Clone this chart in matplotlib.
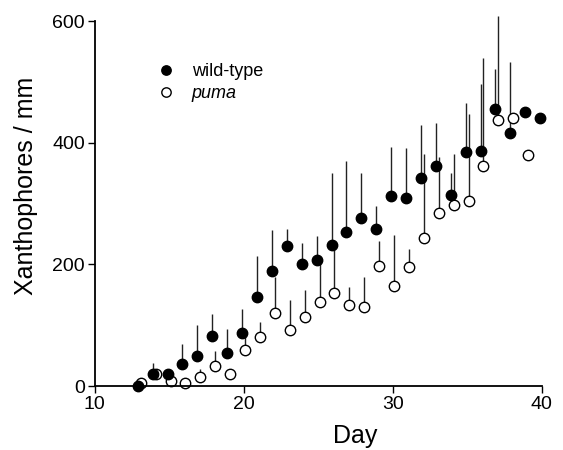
import matplotlib.pyplot as plt
import numpy as np

plt.rcParams['font.family'] = ['Liberation Sans', 'DejaVu Sans']

days = np.arange(13, 41)
# wild-type mean and upper error bar end (Xanthophores / mm)
wt_mean = np.array([0, 20, 20, 37, 50, 83, 54, 87, 147, 190, 230, 200, 207, 232,
                    253, 277, 259, 312, 310, 342, 362, 315, 385, 387, 455, 416, 450, 440])
wt_top = np.array([0, 38, 20, 70, 100, 118, 94, 126, 214, 256, 258, 236, 247, 350,
                   370, 351, 296, 393, 392, 429, 433, 350, 465, 496, 521, 533, 450, 440])

puma_days = np.arange(13, 40)
puma_mean = np.array([5, 20, 8, 5, 15, 33, 20, 60, 80, 120, 93, 113, 138, 153,
                      133, 130, 197, 165, 195, 244, 285, 298, 305, 362, 437, 440, 380])
puma_top = np.array([5, 20, 8, 5, 28, 58, 20, 80, 106, 180, 141, 158, 202, 235,
                     163, 180, 238, 249, 225, 382, 376, 381, 447, 540, 608, 440, 380])

off = 0.1

fig = plt.figure(figsize=(5.63, 4.5), dpi=100)
ax = fig.add_axes([0.168, 0.142, 0.794, 0.811])

# upper error bars only
ax.vlines(days - off, wt_mean, wt_top, color='#222222', lw=1.0, zorder=1, clip_on=False)
ax.vlines(puma_days + off, puma_mean, puma_top, color='#222222', lw=1.0, zorder=1, clip_on=False)

ax.plot(days - off, wt_mean, 'o', ms=7.5, color='black', mec='black', zorder=3,
        clip_on=False, label='wild-type')
ax.plot(puma_days + off, puma_mean, 'o', ms=7.5, mfc='white', mec='black', mew=1.0,
        zorder=2, clip_on=False, label='puma')

ax.set_xlim(10, 40)
ax.set_ylim(0, 600)
ax.set_xticks([10, 20, 30, 40])
ax.set_yticks([0, 200, 400, 600])
ax.spines['top'].set_visible(False)
ax.spines['right'].set_visible(False)
ax.spines['left'].set_linewidth(1.3)
ax.spines['bottom'].set_linewidth(1.3)
ax.tick_params(direction='out', length=5, width=1, labelsize=14, pad=2)

ax.set_xlabel('Day', fontsize=18)
ax.set_ylabel('Xanthophores / mm', fontsize=18)
ax.xaxis.set_label_coords(0.582, -0.103)
ax.yaxis.set_label_coords(-0.127, 0.55)

leg = ax.legend(loc='upper left', bbox_to_anchor=(0.1, 0.91), frameon=False,
                fontsize=13, handletextpad=0.4, labelspacing=0.3, borderpad=0,
                markerscale=0.9)
leg.get_texts()[1].set_fontstyle('italic')

plt.savefig('out.png', dpi=100)
